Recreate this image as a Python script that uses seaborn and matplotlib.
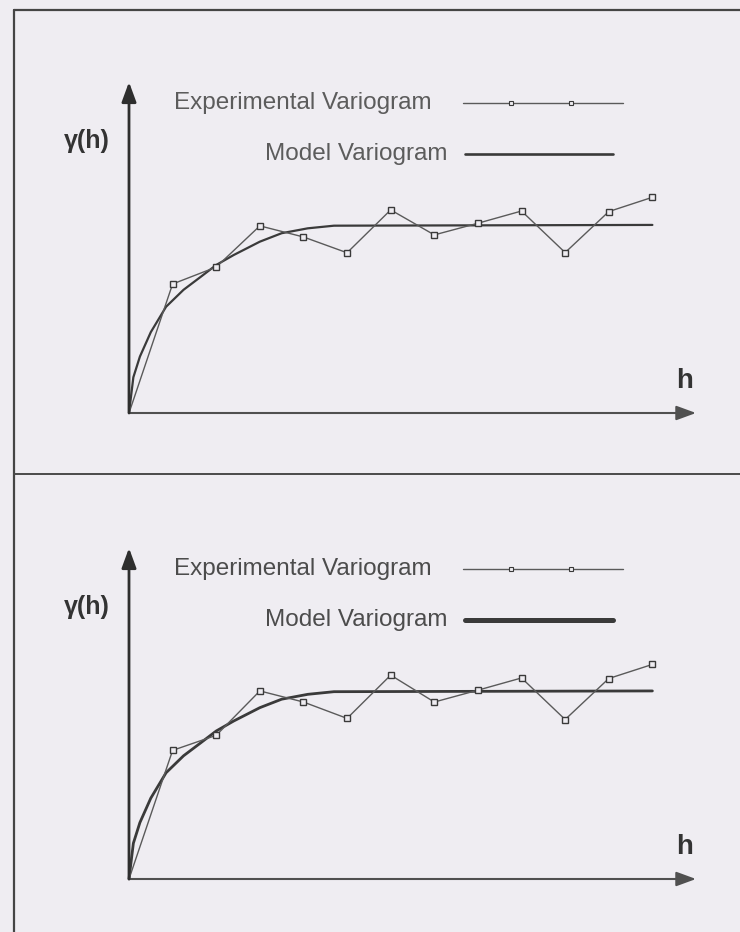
import matplotlib
matplotlib.use('Agg')
import matplotlib.pyplot as plt
from matplotlib.lines import Line2D
import seaborn as sns

# lag number and experimental variogram values (sill = 1)
lags = [0, 1, 2, 3, 4, 5, 6, 7, 8, 9, 10, 11, 12]
exp_top = [0, 0.686, 0.776, 0.995, 0.936, 0.852, 1.080, 0.947, 1.009, 1.074, 0.853, 1.071, 1.147]
exp_bottom = [0, 0.684, 0.764, 1.000, 0.941, 0.854, 1.084, 0.941, 1.004, 1.069, 0.848, 1.066, 1.141]

# model variogram
model_h = [0, 0.1, 0.25, 0.5, 0.85, 1.25, 1.65, 2.0, 2.4, 3.0, 3.5, 4.1, 4.7, 12.0]
model_gamma = [0, 0.19, 0.30, 0.43, 0.565, 0.655, 0.725, 0.787, 0.84, 0.911, 0.956, 0.982, 0.996, 1.0]

legend_labels = ['Experimental Variogram', 'Model Variogram']

BG = '#efedf2'
DARK = '#3a3a3a'
GREY = '#5a5a5a'
W, H = 740, 932

sns.set_theme(style='white')
plt.rcParams['font.family'] = ['Liberation Sans', 'DejaVu Sans']

fig = plt.figure(figsize=(W / 100, H / 100), dpi=100, facecolor=BG)


def fx(x):
    return x / W


def fy(y):
    return 1 - y / H


def draw_panel(exp_vals, origin_y, top_y, model_lw, leg_lw, text_col):
    ax = fig.add_axes([fx(129), fy(origin_y), (696 - 129) / W, (origin_y - top_y) / H])
    ax.set_xlim(0, 13.0)
    ax.set_ylim(0, 1.76)
    ax.patch.set_alpha(0)
    for s in ax.spines.values():
        s.set_visible(False)
    ax.set_xticks([])
    ax.set_yticks([])

    sns.lineplot(x=model_h, y=model_gamma, ax=ax, color=DARK, lw=model_lw, clip_on=False)
    sns.lineplot(x=lags, y=exp_vals, ax=ax, color=GREY, lw=1.0, marker='s', markersize=5,
                 markerfacecolor=BG, markeredgecolor=DARK, markeredgewidth=1.0,
                 markevery=list(range(1, len(lags))), clip_on=False)

    # axes arrows
    ax.annotate('', xy=(13.0, 0), xytext=(0, 0), annotation_clip=False,
                arrowprops=dict(arrowstyle='-|>,head_length=0.6,head_width=0.22', mutation_scale=20,
                                color='#505050', lw=1.5, shrinkA=0, shrinkB=0))
    ax.annotate('', xy=(0, 1.76), xytext=(0, 0), annotation_clip=False,
                arrowprops=dict(arrowstyle='-|>,head_length=0.6,head_width=0.22', mutation_scale=20,
                                color='#2e2e2e', lw=2.0, shrinkA=0, shrinkB=0))

    # labels
    fig.text(fx(87), fy(top_y + 59), 'γ(h)', ha='center', va='center', fontsize=18,
             fontweight='bold', color='#333333')
    fig.text(fx(685), fy(origin_y - 32), 'h', ha='center', va='center', fontsize=20,
             fontweight='bold', color='#333333')

    # hand drawn legend
    y1 = top_y + 21
    y2 = top_y + 72
    fig.text(fx(432), fy(y1), legend_labels[0], ha='right', va='center', fontsize=17.5, color=text_col)
    fig.text(fx(447), fy(y2), legend_labels[1], ha='right', va='center', fontsize=17.5, color=text_col)
    fig.add_artist(Line2D([fx(463), fx(623)], [fy(y1), fy(y1)], color=GREY, lw=1.0))
    fig.add_artist(Line2D([fx(511), fx(571)], [fy(y1), fy(y1)], ls='none', marker='s', markersize=3,
                          markerfacecolor=BG, markeredgecolor=DARK, markeredgewidth=0.8))
    fig.add_artist(Line2D([fx(465), fx(613)], [fy(y2), fy(y2)], color=DARK, lw=leg_lw))


draw_panel(exp_top, 413, 82, 1.6, 1.9, '#5c5c5c')
draw_panel(exp_bottom, 879, 548, 2.0, 3.6, '#4c4c4c')

# page frame lines
fig.add_artist(Line2D([fx(14), fx(740)], [fy(10), fy(10)], color='#454545', lw=1.6))
fig.add_artist(Line2D([fx(14), fx(14)], [fy(10), fy(932)], color='#454545', lw=1.6))
fig.add_artist(Line2D([fx(14), fx(740)], [fy(474), fy(474)], color='#4a4a4a', lw=1.4))

fig.savefig('out.png', dpi=100, facecolor=BG)
